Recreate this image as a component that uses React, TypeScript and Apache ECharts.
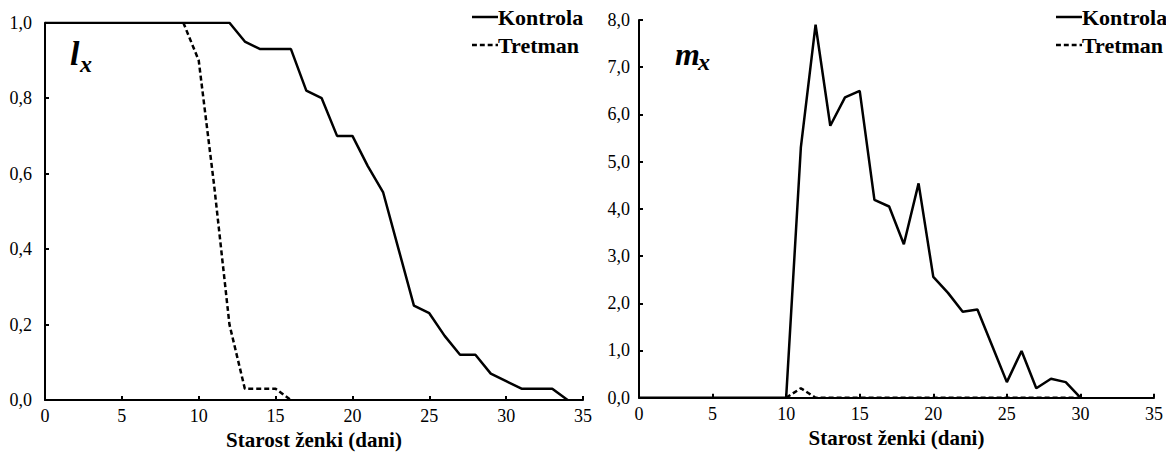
import React, { useEffect, useRef } from "react";
import * as echarts from "echarts";

const xTicks = [0, 5, 10, 15, 20, 25, 30, 35];
const seriesNames = ["Kontrola", "Tretman"];
const axisTitle = "Starost ženki (dani)";

// l_x (survival)
const lxKontrolaDays = [0, 1, 2, 3, 4, 5, 6, 7, 8, 9, 10, 11, 12, 13, 14, 15, 16, 17, 18, 19, 20, 21, 22, 23, 24, 25, 26, 27, 28, 29, 30, 31, 32, 33, 34];
const lxKontrola = [1, 1, 1, 1, 1, 1, 1, 1, 1, 1, 1, 1, 1, 0.95, 0.93, 0.93, 0.93, 0.82, 0.8, 0.7, 0.7, 0.62, 0.55, 0.4, 0.25, 0.23, 0.17, 0.12, 0.12, 0.07, 0.05, 0.03, 0.03, 0.03, 0];
const lxTretmanDays = [9, 10, 11, 12, 13, 14, 15, 16];
const lxTretman = [1, 0.9, 0.57, 0.2, 0.03, 0.03, 0.03, 0];

// m_x (fecundity)
const mxKontrolaDays = [0, 1, 2, 3, 4, 5, 6, 7, 8, 9, 10, 11, 12, 13, 14, 15, 16, 17, 18, 19, 20, 21, 22, 23, 24, 25, 26, 27, 28, 29, 30];
const mxKontrola = [0, 0, 0, 0, 0, 0, 0, 0, 0, 0, 0, 5.3, 7.9, 5.76, 6.36, 6.5, 4.19, 4.05, 3.25, 4.54, 2.56, 2.22, 1.82, 1.87, 1.1, 0.33, 0.99, 0.2, 0.4, 0.33, 0];
const mxTretmanDays = [10, 11, 12, 13, 14, 15, 16, 17, 18, 19, 20, 21, 22, 23, 24, 25, 26, 27, 28, 29, 30];
const mxTretman = [0, 0.2, 0, 0, 0, 0, 0, 0, 0, 0, 0, 0, 0, 0, 0, 0, 0, 0, 0, 0, 0];

const pairs = (xs: number[], ys: number[]) => xs.map((x, i) => [x, ys[i]]);

const FONT = "Liberation Serif";

const SOLID_ICON = "path://M0 0 H26 V2.5 H0 Z";
const DASH_ICON = "path://M0 0 H5 V2.5 H0 Z M8 0 H13 V2.5 H8 Z M16 0 H21 V2.5 H16 Z M24 0 H26.5 V2.5 H24 Z";

export default function App() {
  const ref = useRef<HTMLDivElement>(null);
  useEffect(() => {
    if (!ref.current) return;
    const chart = echarts.init(ref.current, undefined, { renderer: "svg" });
    const comma = (v: number) => v.toFixed(1).replace(".", ",");
    const xAxisBase = (gridIndex: number) => ({
      type: "value",
      gridIndex,
      min: xTicks[0],
      max: xTicks[xTicks.length - 1],
      interval: 5,
      name: axisTitle,
      nameLocation: "middle",
      nameGap: 29,
      nameTextStyle: { fontFamily: FONT, fontWeight: "bold", fontSize: 21, color: "#000" },
      axisLine: { show: true, onZero: false, lineStyle: { color: "#000", width: 2 } },
      axisTick: { show: true, inside: true, length: 4, lineStyle: { color: "#000", width: 2 } },
      axisLabel: { fontFamily: FONT, fontSize: 18, color: "#000", margin: 7 },
      splitLine: { show: false },
    });
    const solid = { color: "#000", width: 2.5, type: "solid" };
    const dashed = { color: "#000", width: 2.5, type: [5, 3] };
    const legendBase = {
      orient: "vertical",
      itemWidth: 26,
      itemHeight: 2.5,
      itemGap: 6,
      textStyle: { fontFamily: FONT, fontWeight: "bold", fontSize: 22, color: "#000", padding: [0, 0, 0, -5] },
      data: [
        { name: seriesNames[0], icon: SOLID_ICON },
        { name: seriesNames[1], icon: DASH_ICON },
      ],
    };
    const textEl = (text: string, left: number, top: number, size: number) => ({
      type: "text",
      left,
      top,
      style: { text, fontFamily: FONT, fontStyle: "italic", fontWeight: "bold", fontSize: size, fill: "#000" },
    });
    chart.setOption({
      animation: false,
      backgroundColor: "#fff",
      grid: [
        { left: 45, right: 583, top: 22.7, bottom: 66, containLabel: false },
        { left: 639, right: 12, top: 20, bottom: 68.3, containLabel: false },
      ],
      xAxis: [xAxisBase(0), xAxisBase(1)],
      yAxis: [
        {
          type: "value",
          gridIndex: 0,
          min: 0,
          max: 1,
          interval: 0.2,
          axisLine: { show: true, lineStyle: { color: "#000", width: 2 } },
          axisTick: { show: true, inside: true, length: 4, lineStyle: { color: "#000", width: 2 } },
          axisLabel: { fontFamily: FONT, fontSize: 18, color: "#000", margin: 13, formatter: comma },
          splitLine: { show: false },
        },
        {
          type: "value",
          gridIndex: 1,
          min: 0,
          max: 8,
          interval: 1,
          axisLine: { show: true, lineStyle: { color: "#000", width: 2 } },
          axisTick: { show: true, inside: true, length: 4, lineStyle: { color: "#000", width: 2 } },
          axisLabel: { fontFamily: FONT, fontSize: 18, color: "#000", margin: 9, formatter: comma },
          splitLine: { show: false },
        },
      ],
      legend: [
        { ...legendBase, left: 467, top: 1 },
        { ...legendBase, left: 1051, top: 1 },
      ],
      series: [
        { name: seriesNames[0], type: "line", xAxisIndex: 0, yAxisIndex: 0, data: pairs(lxKontrolaDays, lxKontrola), symbol: "none", lineStyle: solid, itemStyle: { color: "#000" } },
        { name: seriesNames[1], type: "line", xAxisIndex: 0, yAxisIndex: 0, data: pairs(lxTretmanDays, lxTretman), symbol: "none", lineStyle: dashed, itemStyle: { color: "#000" } },
        { name: seriesNames[0], type: "line", xAxisIndex: 1, yAxisIndex: 1, data: pairs(mxKontrolaDays, mxKontrola), symbol: "none", lineStyle: solid, itemStyle: { color: "#000" } },
        { name: seriesNames[1], type: "line", xAxisIndex: 1, yAxisIndex: 1, data: pairs(mxTretmanDays, mxTretman), symbol: "none", lineStyle: dashed, itemStyle: { color: "#000" } },
      ],
      graphic: [
        textEl("l", 70, 36, 34),
        textEl("x", 80, 52, 24),
        textEl("m", 675, 38, 32),
        textEl("x", 698, 50, 24),
      ],
    });
    return () => chart.dispose();
  }, []);
  return <div ref={ref} style={{ position: "fixed", left: 0, top: 0, width: 1166, height: 466 }} />;
}
